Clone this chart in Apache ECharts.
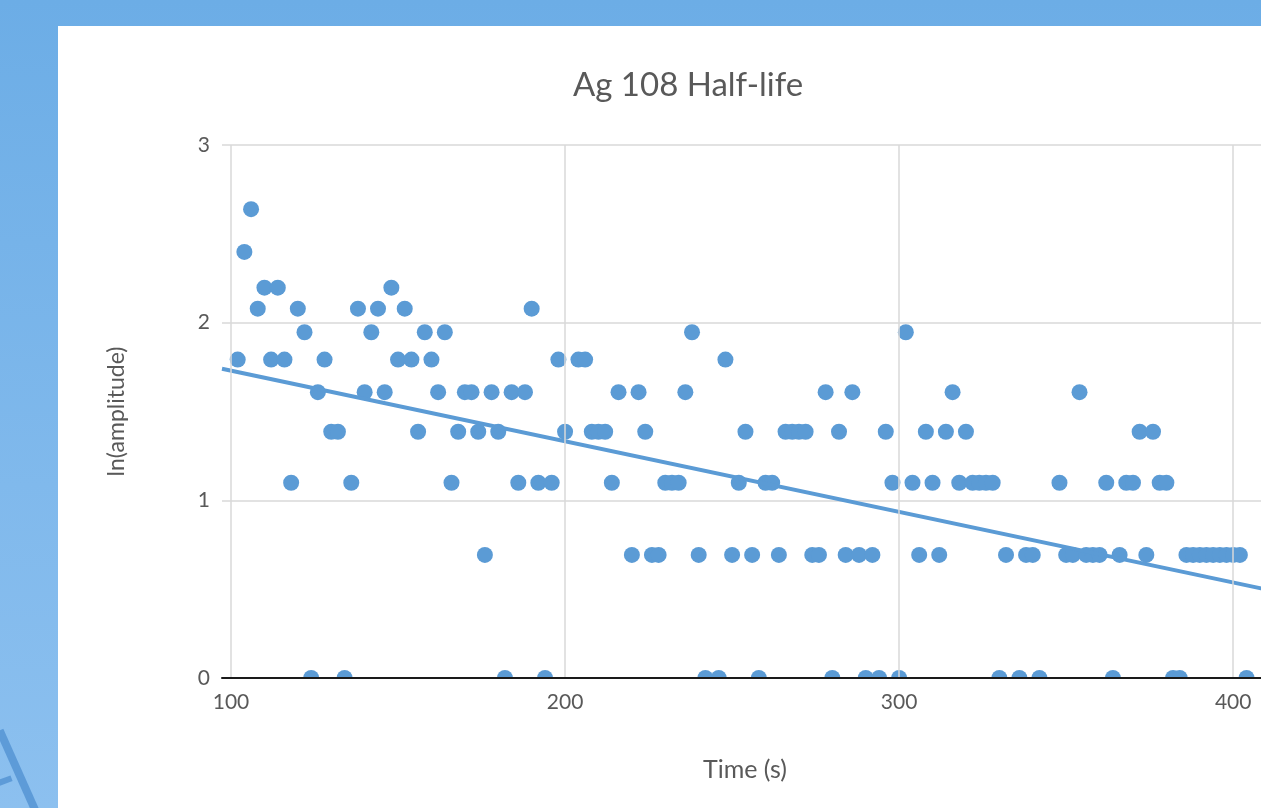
<!DOCTYPE html>
<html>
<head>
<meta charset="utf-8">
<script src="https://cdn.jsdelivr.net/npm/echarts@6/dist/echarts.min.js"></script>
<style>
  html, body { margin: 0; padding: 0; width: 1261px; height: 808px; overflow: hidden; }
  body { position: relative; background: linear-gradient(180deg, #6cade6 0%, #80b9ec 60%, #8cc0ef 100%); }
  .panel { position: absolute; left: 58px; top: 26px; width: 1300px; height: 800px; background: #fff; }
  .deco1 { position: absolute; left: -4px; top: 732px; width: 8px; height: 90px; background: #5d9bd8; transform: rotate(-24deg); transform-origin: top left; }
  .deco2 { position: absolute; left: -4px; top: 778px; width: 16px; height: 6px; background: #5d9bd8; transform: rotate(-20deg); }
  #chart { position: absolute; left: 0; top: 0; width: 1320px; height: 808px; }
</style>
</head>
<body>
<div class="panel"></div>
<div class="deco1"></div>
<div class="deco2"></div>
<div id="chart"></div>
<script>
// time (s) of each count and ln of the amplitude
const times = [
  102, 104, 106, 108, 110, 112, 114, 116, 118, 120, 122, 124, 126, 128, 130, 132, 134, 136, 138, 140,
  142, 144, 146, 148, 150, 152, 154, 156, 158, 160, 162, 164, 166, 168, 170, 172, 174, 176, 178, 180,
  182, 184, 186, 188, 190, 192, 194, 196, 198, 200, 204, 206, 208, 210, 212, 214, 216, 220, 222, 224,
  226, 228, 230, 232, 234, 236, 238, 240, 242, 246, 248, 250, 252, 254, 256, 258, 260, 262, 264, 266,
  268, 270, 272, 274, 276, 278, 280, 282, 284, 286, 288, 290, 292, 294, 296, 298, 300, 302, 304, 306,
  308, 310, 312, 314, 316, 318, 320, 322, 324, 326, 328, 330, 332, 336, 338, 340, 342, 348, 350, 352,
  354, 356, 358, 360, 362, 364, 366, 368, 370, 372, 374, 376, 378, 380, 382, 384, 386, 388, 390, 392,
  394, 396, 398, 400, 402, 404
]
const lnAmplitude = [
  1.792, 2.398, 2.639, 2.079, 2.197, 1.792, 2.197, 1.792, 1.099, 2.079, 1.946, 0, 1.609, 1.792, 1.386, 1.386, 0, 1.099, 2.079, 1.609,
  1.946, 2.079, 1.609, 2.197, 1.792, 2.079, 1.792, 1.386, 1.946, 1.792, 1.609, 1.946, 1.099, 1.386, 1.609, 1.609, 1.386, 0.693, 1.609, 1.386,
  0, 1.609, 1.099, 1.609, 2.079, 1.099, 0, 1.099, 1.792, 1.386, 1.792, 1.792, 1.386, 1.386, 1.386, 1.099, 1.609, 0.693, 1.609, 1.386,
  0.693, 0.693, 1.099, 1.099, 1.099, 1.609, 1.946, 0.693, 0, 0, 1.792, 0.693, 1.099, 1.386, 0.693, 0, 1.099, 1.099, 0.693, 1.386,
  1.386, 1.386, 1.386, 0.693, 0.693, 1.609, 0, 1.386, 0.693, 1.609, 0.693, 0, 0.693, 0, 1.386, 1.099, 0, 1.946, 1.099, 0.693,
  1.386, 1.099, 0.693, 1.386, 1.609, 1.099, 1.386, 1.099, 1.099, 1.099, 1.099, 0, 0.693, 0, 0.693, 0.693, 0, 1.099, 0.693, 0.693,
  1.609, 0.693, 0.693, 0.693, 1.099, 0, 0.693, 1.099, 1.099, 1.386, 0.693, 1.386, 1.099, 1.099, 0, 0, 0.693, 0.693, 0.693, 0.693,
  0.693, 0.693, 0.693, 0.693, 0.693, 0
]
// linear trendline end points
const trendTimes = [97.3, 420]
const trendValues = [1.741, 0.458]
const xTickLabels = [100, 200, 300, 400]

const textColor = '#595959'
const fontFamily = 'Lato, "Open Sans", sans-serif'

const myChart = echarts.init(document.getElementById('chart'))
const option = {
  title: {
    text: 'Ag 108 Half-life',
    left: 683,
    top: 64,
    textAlign: 'center',
    textStyle: { color: textColor, fontSize: 33, fontWeight: 'normal', fontFamily: fontFamily }
  },
  grid: { left: 222, right: 20, top: 145, bottom: 130 },
  xAxis: {
    type: 'value',
    min: 97.3,
    max: 420,
    z: 6,
    axisLine: { lineStyle: { color: '#1a1a1a', width: 2 } },
    axisTick: { show: false, customValues: xTickLabels },
    axisLabel: { customValues: xTickLabels, color: textColor, fontSize: 21, fontFamily: fontFamily, margin: 14 },
    splitLine: { show: true, lineStyle: { color: '#d9d9d9', width: 1.5 } }
  },
  yAxis: {
    type: 'value',
    min: 0,
    max: 3,
    interval: 1,
    name: 'ln(amplitude)',
    nameLocation: 'middle',
    nameGap: 94,
    nameTextStyle: { color: textColor, fontSize: 23, fontFamily: fontFamily },
    axisLine: { show: false },
    axisTick: { show: false },
    axisLabel: { color: textColor, fontSize: 21, fontFamily: fontFamily, margin: 12 },
    splitLine: { show: true, lineStyle: { color: '#d9d9d9', width: 1.5 } }
  },
  graphic: [
    {
      // hides the lower half of markers sitting on the x axis, as the plot area clips them
      type: 'rect',
      left: 222,
      top: 679,
      z: 5,
      shape: { width: 1098, height: 9 },
      style: { fill: '#fff' }
    },
    {
      type: 'text',
      left: 703,
      top: 757,
      style: { text: 'Time (s)', fill: textColor, fontSize: 25, fontFamily: fontFamily }
    }
  ],
  series: [
    {
      type: 'scatter',
      symbolSize: 16,
      itemStyle: { color: '#5b9bd5', opacity: 1 },
      data: times.map((t, i) => [t, lnAmplitude[i]])
    },
    {
      type: 'line',
      symbol: 'none',
      z: 3,
      lineStyle: { color: '#5b9bd5', width: 4 },
      data: trendTimes.map((t, i) => [t, trendValues[i]])
    }
  ]
}
myChart.setOption(option)
</script>
</body>
</html>
